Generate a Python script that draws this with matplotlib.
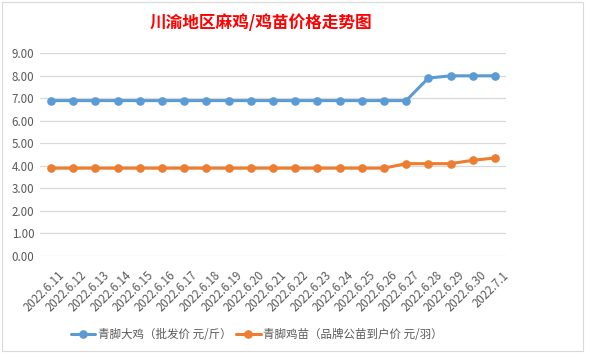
import numpy as np
import matplotlib
matplotlib.use("Agg")
from matplotlib import pyplot as plt
from matplotlib.transforms import ScaledTranslation
from matplotlib.patches import Rectangle

plt.rcParams['font.family'] = ['Noto Sans CJK SC', 'DejaVu Sans']

dates = ["2022.6.11", "2022.6.12", "2022.6.13", "2022.6.14", "2022.6.15", "2022.6.16",
         "2022.6.17", "2022.6.18", "2022.6.19", "2022.6.20", "2022.6.21", "2022.6.22",
         "2022.6.23", "2022.6.24", "2022.6.25", "2022.6.26", "2022.6.27", "2022.6.28",
         "2022.6.29", "2022.6.30", "2022.7.1"]
big_chicken = [6.9, 6.9, 6.9, 6.9, 6.9, 6.9, 6.9, 6.9, 6.9, 6.9, 6.9, 6.9,
               6.9, 6.9, 6.9, 6.9, 6.9, 7.9, 8.0, 8.0, 8.0]
chick = [3.9, 3.9, 3.9, 3.9, 3.9, 3.9, 3.9, 3.9, 3.9, 3.9, 3.9, 3.9,
         3.9, 3.9, 3.9, 3.9, 4.1, 4.1, 4.1, 4.25, 4.35]
yticks = [0, 1, 2, 3, 4, 5, 6, 7, 8, 9]

name_big = "青脚大鸡（批发价 元/斤）"
name_chick = "青脚鸡苗（品牌公苗到户价 元/羽）"
title = "川渝地区麻鸡/鸡苗价格走势图"

blue = "#5B9BD5"
orange = "#ED7D31"
text_gray = "#595959"
grid_gray = "#d9d9d9"

fig = plt.figure(figsize=(5.9, 3.57), dpi=100)
fig.patch.set_facecolor("white")

# chart frame
fig.patches.append(Rectangle((2 / 590, 1 - 351 / 357), 581 / 590, 349 / 357,
                             transform=fig.transFigure, fill=False,
                             edgecolor=grid_gray, linewidth=0.8))

ax = fig.add_axes([40 / 590, 1 - 256 / 357, 466 / 590, (256 - 53.3) / 357])

x = np.arange(len(dates))
ax.plot(x, big_chicken, color=blue, linewidth=2.2, marker="o", markersize=5.2,
        label=name_big, solid_capstyle="round")
ax.plot(x, chick, color=orange, linewidth=2.2, marker="o", markersize=5.2,
        label=name_chick, solid_capstyle="round")

ax.set_xlim(-0.5, len(dates) - 0.5)
ax.set_ylim(0, 9)
ax.set_yticks(yticks)
ax.set_yticklabels([f"{v:.2f}" for v in yticks], fontsize=8.3, color=text_gray)
ax.grid(axis="y", color=grid_gray, linewidth=0.9)
ax.set_axisbelow(True)
for s in ax.spines.values():
    s.set_visible(False)
ax.tick_params(axis="both", length=0)
ax.tick_params(axis="y", pad=4)

ax.set_xticks(x)
ax.set_xticklabels(dates, rotation=45, ha="right", rotation_mode="anchor",
                   fontsize=8.3, color=text_gray)
offset = ScaledTranslation(7 / 100, -8 / 100, fig.dpi_scale_trans)
for lbl in ax.get_xticklabels():
    lbl.set_transform(lbl.get_transform() + offset)

fig.text(261 / 590, 1 - 23 / 357, title, color="red", fontsize=12,
         fontweight="bold", ha="center", va="center")

fig.legend(loc="center", bbox_to_anchor=(257 / 590, 1 - 335 / 357), ncol=2,
           frameon=False, fontsize=8.3, handlelength=2.1, columnspacing=0.4,
           handletextpad=0.25, labelcolor=text_gray)

fig.savefig("out.png", dpi=100)
